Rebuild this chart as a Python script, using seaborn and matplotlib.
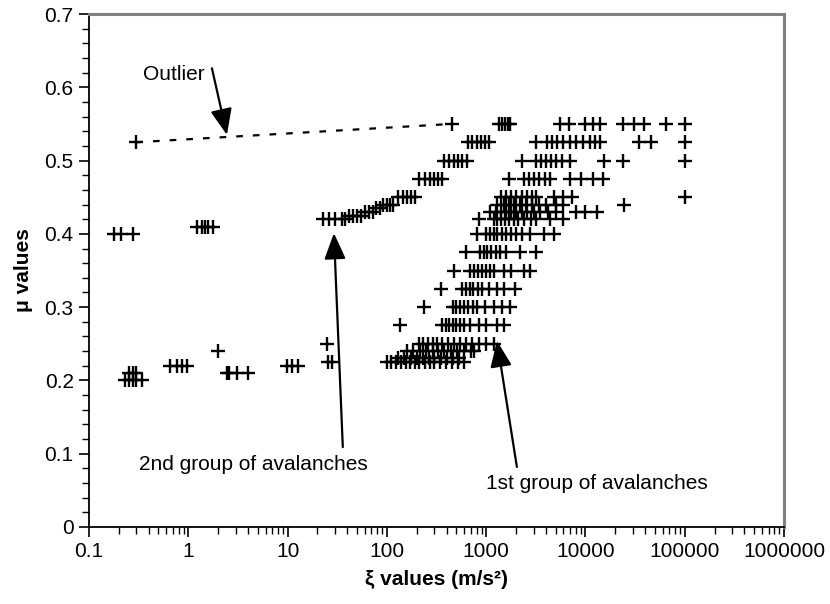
import numpy as np
import pandas as pd
import matplotlib
matplotlib.use("Agg")
import matplotlib.pyplot as plt
import seaborn as sns

# --- first group of avalanches: xi values (m/s^2) per mu level ---
g1_mu = [0.225, 0.23, 0.24, 0.25, 0.275, 0.30, 0.325, 0.35, 0.375, 0.40,
         0.42, 0.43, 0.44, 0.45, 0.475, 0.50, 0.525, 0.55]
g1_xi = [
    [100, 110, 125, 140, 155, 170, 190, 210, 240, 270, 300, 340, 390, 450, 520, 600],
    [130, 150, 175, 200, 230, 265, 300, 350, 400, 460, 530],
    [160, 185, 215, 250, 290, 330, 380, 440, 510, 600, 700, 750],
    [210, 230, 260, 290, 320, 360, 410, 470, 540, 620, 720, 850, 1000, 1200],
    [135, 360, 390, 420, 460, 500, 550, 600, 690, 850, 1000, 1300, 1500],
    [235, 460, 500, 550, 600, 660, 730, 810, 980, 1200, 1450, 1750],
    [350, 575, 620, 680, 740, 820, 910, 1070, 1300, 1500, 1950],
    [480, 690, 750, 820, 900, 1000, 1100, 1200, 1500, 1800, 2400, 2750],
    [630, 870, 950, 1030, 1120, 1250, 1380, 1600, 2200, 3200],
    [810, 1000, 1100, 1200, 1300, 1450, 1600, 1800, 2000, 2300, 2750, 3800, 4800],
    [850, 1200, 1300, 1400, 1550, 1700, 1900, 2100, 2400, 2800, 3200, 4400, 6000],
    [1100, 1250, 1400, 1600, 1800, 2000, 2300, 2600, 3000, 3500, 4200, 5100, 8100, 10000, 13000],
    [1300, 1500, 1700, 1900, 2200, 2500, 2900, 3400, 4000, 5000, 6000, 24500],
    [1400, 1600, 1800, 2000, 2300, 2600, 2900, 3200, 4800, 6000, 7300, 100000],
    [1700, 2400, 2700, 3000, 3400, 3900, 4400, 7000, 9100, 12000, 15000],
    [2300, 3200, 3600, 4000, 4500, 5100, 5800, 7000, 15500, 24000, 100000],
    [3200, 4100, 4600, 5200, 6000, 7000, 8000, 9500, 11000, 12500, 14000, 35000, 46000, 100000],
    [5500, 6800, 10000, 12000, 14000, 24000, 31000, 39000, 65000, 100000],
]

# --- second group of avalanches ---
g2_mu = [0.42, 0.425, 0.43, 0.435, 0.44, 0.45, 0.475, 0.50, 0.525, 0.55]
g2_xi = [
    [23, 26, 30, 35, 38],
    [42, 46, 50, 55],
    [60, 66, 72],
    [78, 85],
    [92, 100, 108, 115],
    [130, 145, 160, 175, 190],
    [210, 240, 270, 300, 330, 360],
    [380, 420, 470, 520, 570, 640],
    [650, 720, 800, 880, 980, 1080],
    [1350, 1450, 1550, 1650, 1750],
]

# --- remaining low-xi avalanches ---
low_mu = [0.40, 0.41, 0.20, 0.21, 0.22, 0.24, 0.21, 0.22, 0.25, 0.225]
low_xi = [
    [0.18, 0.21, 0.28],
    [1.22, 1.37, 1.47, 1.58, 1.77],
    [0.23, 0.25, 0.28, 0.30, 0.34],
    [0.25, 0.28, 0.30],
    [0.65, 0.77, 0.86, 0.97],
    [2.0],
    [2.45, 2.6, 3.1, 4.0],
    [9.8, 11, 12.7],
    [25],
    [25.5, 28],
]

# outlier and the point it is linked to by the dotted line
outlier_xi, outlier_mu = 0.3, 0.525
link_xi, link_mu = 450, 0.55

rows = []
for mus, xis in ((g1_mu, g1_xi), (g2_mu, g2_xi), (low_mu, low_xi)):
    for m, xs in zip(mus, xis):
        rows += [(x, m) for x in xs]
rows += [(outlier_xi, outlier_mu), (link_xi, link_mu)]
df = pd.DataFrame(rows, columns=["xi", "mu"])

sns.set_theme(style="white")
plt.rcParams["font.family"] = ["Liberation Sans", "DejaVu Sans"]
plt.rcParams["text.color"] = "black"
plt.rcParams["axes.labelcolor"] = "black"

fig = plt.figure(figsize=(8.30, 6.04), dpi=100)
ax = fig.add_axes([89 / 830, 1 - 527 / 604, (784 - 89) / 830, (527 - 14) / 604])

# dotted link from the outlier
ax.plot([outlier_xi, link_xi], [outlier_mu, link_mu], color="black",
        lw=1.6, linestyle=(0, (3, 4.5)), zorder=2)

sns.scatterplot(data=df, x="xi", y="mu", marker="+", s=115, color="black",
                linewidth=1.7, ax=ax, zorder=3, legend=False)

ax.set_xscale("log")
ax.set_xlim(0.1, 1e6)
ax.set_ylim(0, 0.7)

ax.set_xticks([0.1, 1, 10, 100, 1000, 10000, 100000, 1000000])
ax.set_xticklabels(["0.1", "1", "10", "100", "1000", "10000", "100000", "1000000"])
ax.xaxis.set_minor_locator(matplotlib.ticker.LogLocator(base=10, subs=np.arange(2, 10)))
ax.xaxis.set_minor_formatter(matplotlib.ticker.NullFormatter())
ax.set_yticks(np.arange(0, 0.71, 0.1))
ax.set_yticklabels(["0", "0.1", "0.2", "0.3", "0.4", "0.5", "0.6", "0.7"])
ax.set_yticks(np.arange(0, 0.701, 0.02), minor=True)

ax.tick_params(axis="both", which="major", direction="out", length=7, width=1.2,
               color="black", labelsize=15, labelcolor="black", pad=4)
ax.tick_params(axis="both", which="minor", direction="out", length=5, width=1.0,
               color="black")
ax.tick_params(left=True, bottom=True, which="both")

for side in ("left", "bottom"):
    ax.spines[side].set_color("black")
    ax.spines[side].set_linewidth(1.3)
for side in ("top", "right"):
    ax.spines[side].set_color("#808080")
    ax.spines[side].set_linewidth(2.2)
ax.grid(False)

ax.set_xlabel("ξ values (m/s²)", fontsize=15, fontweight="bold", labelpad=6)
ax.set_ylabel("μ values", fontsize=15, fontweight="bold", labelpad=8)

arrow = dict(arrowstyle="-|>,head_length=0.8,head_width=0.33", mutation_scale=20,
             color="black", lw=1.6, shrinkA=0, shrinkB=0)
ax.annotate("", xy=(2.45, 0.535), xytext=(1.73, 0.626), arrowprops=arrow)
ax.text(1.45, 0.618, "Outlier", fontsize=15, ha="right", va="center")

ax.annotate("", xy=(29.3, 0.401), xytext=(36, 0.109), arrowprops=arrow)
ax.text(0.32, 0.085, "2nd group of avalanches", fontsize=15, ha="left", va="center")

ax.annotate("", xy=(1285, 0.254), xytext=(2040, 0.082), arrowprops=arrow)
ax.text(1000, 0.06, "1st group of avalanches", fontsize=15, ha="left", va="center")

fig.savefig("out.png", dpi=100, facecolor="white")
